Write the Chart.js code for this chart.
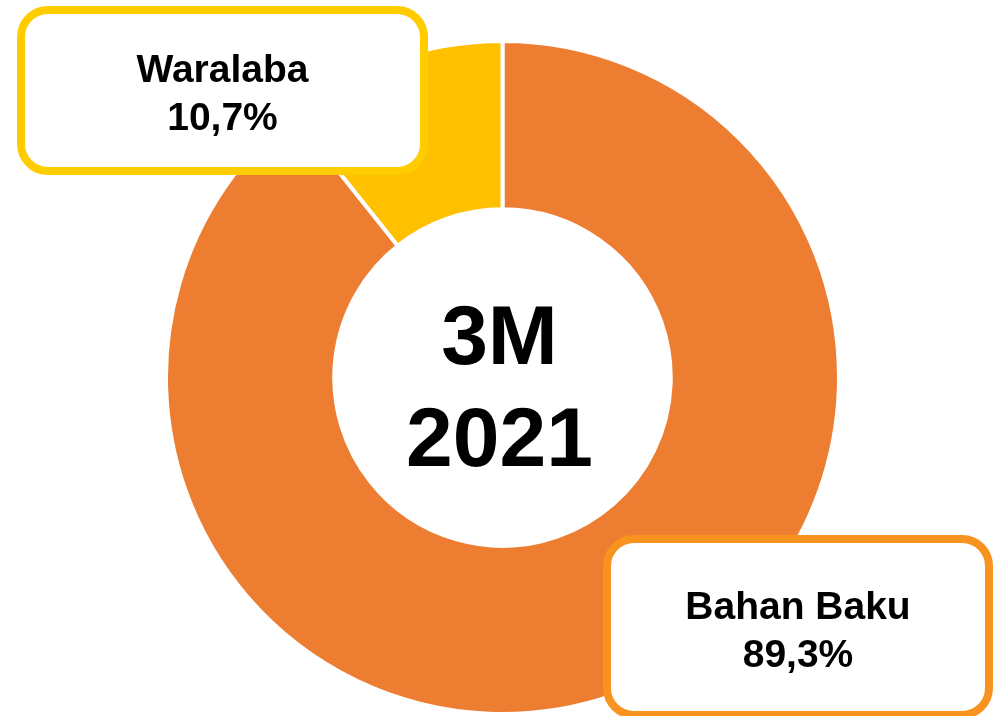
<!DOCTYPE html>
<html>
<head>
<script src="https://cdn.jsdelivr.net/npm/chart.js"></script>
<style>
  body { margin: 0; background: #fff; overflow: hidden; }
  #wrap { position: relative; width: 1005px; height: 716px; overflow: hidden; }
  .box {
    position: absolute; box-sizing: border-box; background: #fff;
    border: 8px solid; border-radius: 31px;
  }
  .box .txt {
    position: absolute; left: 0; right: 0; text-align: center;
    font: bold 39px "Liberation Sans", Arial, sans-serif; line-height: 48px; color: #000;
  }
</style>
</head>

<body>
<div id="wrap">
  <canvas id="myChart" width="1005" height="716"></canvas>
</div>

<script>
  // data
  const labels = ['Bahan Baku', 'Waralaba'];
  const shares = [89.3, 10.7];
  const colors = ['#ED7D31', '#FFC000'];
  const centerLines = ['3M', '2021'];

  // label boxes (left, top, width, height, border colour, text offset)
  const boxLeft = [603, 17];
  const boxTop = [535, 6];
  const boxW = [390, 411];
  const boxH = [184, 169];
  const boxColor = ['#F7931E', '#FFCC00'];
  const textTop = [38.5, 30.5];

  const fmt = v => v.toFixed(1).replace('.', ',') + '%';

  const centerText = {
    id: 'centerText',
    afterDraw(chart) {
      const arc = chart.getDatasetMeta(0).data[0];
      const c = chart.ctx;
      c.save();
      c.fillStyle = '#000';
      c.font = 'bold 84px "Liberation Sans", Arial, sans-serif';
      c.textAlign = 'center';
      c.textBaseline = 'alphabetic';
      c.fillText(centerLines[0], arc.x - 3, arc.y - 14);
      c.fillText(centerLines[1], arc.x - 3, arc.y + 88);
      c.restore();
    }
  };

  const ctx = document.getElementById('myChart');
  new Chart(ctx, {
    type: 'doughnut',
    data: {
      labels: labels,
      datasets: [{
        data: shares,
        backgroundColor: colors,
        borderColor: '#ffffff',
        borderWidth: 4
      }]
    },
    options: {
      responsive: false,
      animation: false,
      cutout: '50%',
      layout: { padding: { top: 39, bottom: -4, left: 0, right: 0 } },
      plugins: {
        legend: { display: false },
        tooltip: { enabled: false }
      }
    },
    plugins: [centerText]
  });

  const wrap = document.getElementById('wrap');
  for (let i = 0; i < labels.length; i++) {
    const b = document.createElement('div');
    b.className = 'box';
    b.style.left = boxLeft[i] + 'px';
    b.style.top = boxTop[i] + 'px';
    b.style.width = boxW[i] + 'px';
    b.style.height = boxH[i] + 'px';
    b.style.borderColor = boxColor[i];
    const t = document.createElement('div');
    t.className = 'txt';
    t.style.top = textTop[i] + 'px';
    t.innerHTML = labels[i] + '<br>' + fmt(shares[i]);
    b.appendChild(t);
    wrap.appendChild(b);
  }
</script>
</body>
</html>
